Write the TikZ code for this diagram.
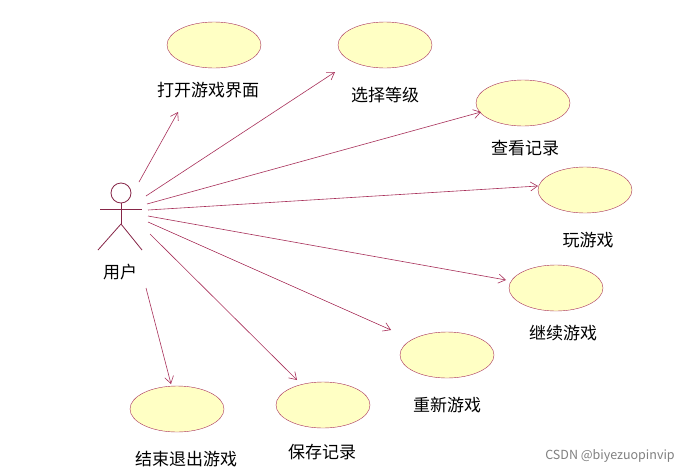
\documentclass[tikz,border=0pt]{standalone}
\usepackage{fontspec}
\setmainfont{Noto Sans CJK SC}
\usetikzlibrary{arrows.meta,shapes.geometric}
\definecolor{ln}{HTML}{A8305A}
\definecolor{uc}{HTML}{FFFFC4}
\tikzset{
 usecase/.style={draw=ln,fill=uc,ellipse,minimum width=94pt,minimum height=46pt,inner sep=0pt},
 lbl/.style={font=\fontsize{17pt}{18pt}\selectfont},
 assoc/.style={draw=ln,line width=0.6pt,-{Straight Barb[length=7pt,width=9pt]}},
 actline/.style={draw=ln!80!black,line width=0.8pt}
}
\begin{document}
\begin{tikzpicture}[x=1pt,y=-1pt]
\useasboundingbox (0,0) rectangle (687,474);
\fill[white] (0,0) rectangle (687,474);
% actor
\node[circle,draw=ln!80!black,line width=0.8pt,minimum size=20pt,inner sep=0pt] (head) at (121,193) {};
\draw[actline] (head.south) -- (121,224) coordinate (hip);
\draw[actline] (100,209) -- (142,209);
\draw[actline] (hip) -- (98,250);
\draw[actline] (hip) -- (142,250);
\node[lbl] (user) at (120,272) {用户};
% use cases
\node[usecase] (u1) at (214,45) {};
\node[lbl] at (208,90) {打开游戏界面};
\node[usecase] (u2) at (385,45) {};
\node[lbl] at (385,95) {选择等级};
\node[usecase] (u3) at (523,103) {};
\node[lbl] at (525,148) {查看记录};
\node[usecase] (u4) at (585,190) {};
\node[lbl] at (588,240) {玩游戏};
\node[usecase] (u5) at (556,288) {};
\node[lbl] at (563,333) {继续游戏};
\node[usecase] (u6) at (447,355) {};
\node[lbl] at (447,405) {重新游戏};
\node[usecase] (u7) at (177,409) {};
\node[lbl] at (186,459) {结束退出游戏};
\node[usecase] (u8) at (323,405) {};
\node[lbl] at (322,452) {保存记录};
% arrow ends
\coordinate (e1) at (178,112);
\coordinate (e2) at (335,72);
\coordinate (e3) at (481,112);
\coordinate (e4) at (538,186);
\coordinate (e5) at (506,280);
\coordinate (e6) at (391,330);
\coordinate (e7) at (171,384);
\coordinate (e8) at (297,380);
\draw[assoc] (139,182) -- (e1);
\draw[assoc] (146,196) -- (e2);
\draw[assoc] (147,204) -- (e3);
\draw[assoc] (148,210) -- (e4);
\draw[assoc] (148,216) -- (e5);
\draw[assoc] (148,222) -- (e6);
\draw[assoc] (146,288) -- (e7);
\draw[assoc] (150,234) -- (e8);
\node[font=\fontsize{12.5pt}{13pt}\selectfont,text=gray] (wm) at (610,456) {CSDN @biyezuopinvip};
\end{tikzpicture}
\end{document}
